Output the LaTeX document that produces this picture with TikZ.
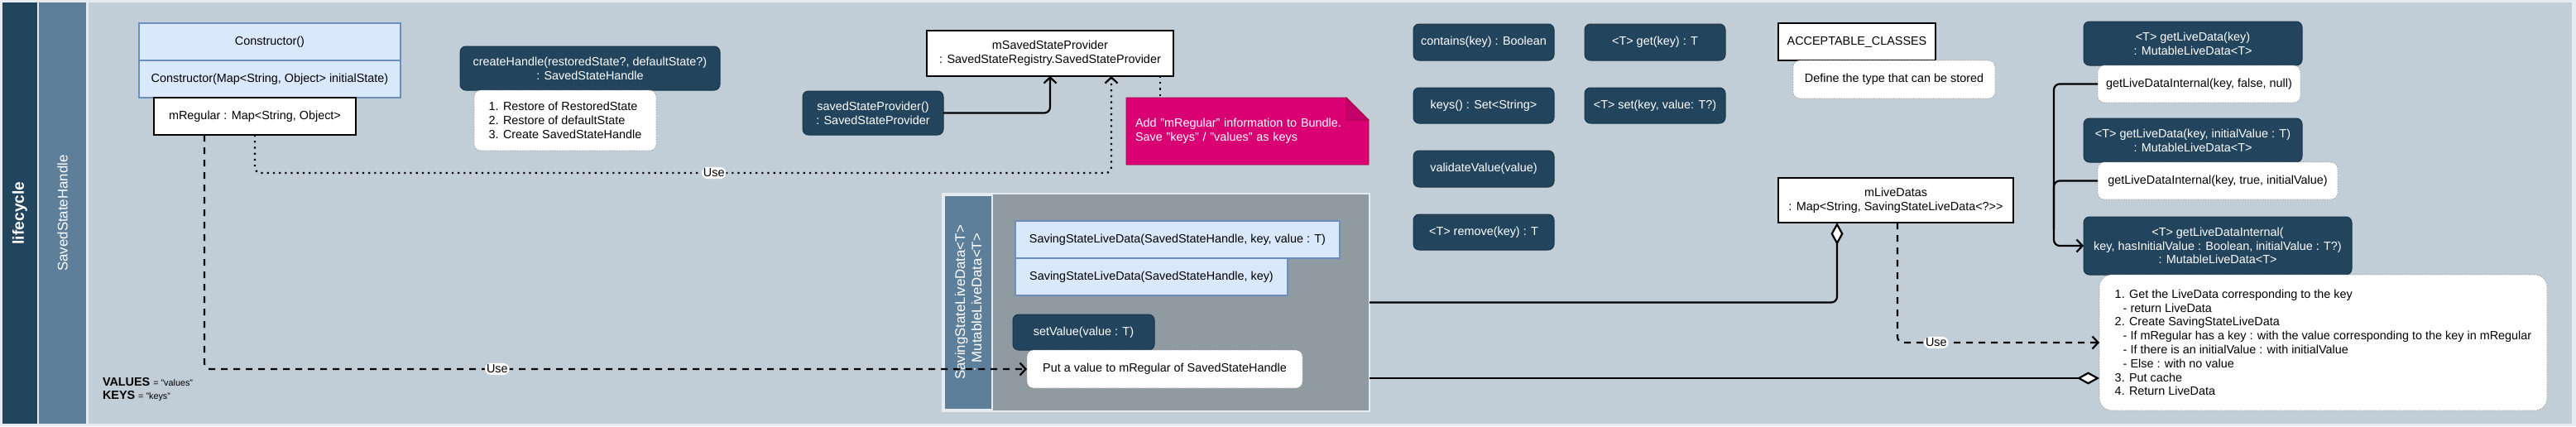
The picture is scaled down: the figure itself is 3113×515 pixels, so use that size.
\documentclass[tikz,border=0pt]{standalone}
\usepackage{fontspec}
\setmainfont{Liberation Sans}
\usetikzlibrary{arrows.meta}
\definecolor{dk}{HTML}{23445D}
\definecolor{dkline}{HTML}{1A3549}
\definecolor{midl}{HTML}{5D7F99}
\definecolor{bgmain}{HTML}{C1CDD7}
\definecolor{edgec}{HTML}{E6EBEF}
\definecolor{lb}{HTML}{DAE8FC}
\definecolor{lbline}{HTML}{6C8EBF}
\definecolor{pinkf}{HTML}{D80073}
\definecolor{pinkd}{HTML}{C4006A}
\definecolor{pinkl}{HTML}{A50040}
\definecolor{grayb}{HTML}{8F9AA1}
\definecolor{noteline}{HTML}{9A9A9A}
\tikzset{
  diamtip/.tip={Diamond[fill=white,length=27pt,width=15pt]},
  barbtip/.tip={Straight Barb[length=7pt,width=15pt]},
  base/.style={inner sep=0pt, outer sep=0pt, font=\fontsize{14.4}{16.8}\selectfont},
  sz/.style 2 args={minimum width=#1pt, minimum height=#2pt},
  darkbox/.style={base, draw=dkline, line width=1pt, fill=dk, text=white, rounded corners=7pt, align=center},
  classbox/.style={base, draw=black, line width=1.4pt, fill=white, align=center},
  bluebox/.style={base, draw=lbline, line width=1.4pt, fill=lb, align=center},
  notebox/.style={base, draw=noteline, line width=0.7pt, dash pattern=on 1.5pt off 1.5pt, fill=white, rounded corners=8pt, align=center},
  lane/.style={inner sep=0pt, outer sep=0pt, rotate=90, text=white},
  uselbl/.style={base, fill=white, inner xsep=2pt, inner ysep=2pt, text=black},
  solidline/.style={line width=2.2pt, rounded corners=7pt},
  conn/.style={solidline, -barbtip},
  dotconn/.style={line width=2.2pt, dash pattern=on 2.2pt off 5pt, rounded corners=7pt},
  dashconn/.style={line width=2.2pt, dash pattern=on 8pt off 7pt, rounded corners=7pt, -barbtip}
}
\begin{document}
\begin{tikzpicture}[x=1pt,y=-1pt]
\useasboundingbox (0,0) rectangle (3113,515);
\fill[edgec] (0,0) rectangle (3113,515);
% lanes
\node[lane, fill=dk, minimum width=509pt, minimum height=42pt, font=\fontsize{19.2}{22}\selectfont\bfseries] (lc) at (24,257.5) {lifecycle};
\node[lane, fill=midl, minimum width=509pt, minimum height=57pt, font=\fontsize{16.8}{20}\selectfont] (ssh) at (75.5,257.5) {SavedStateHandle};
\fill[bgmain] (107,3) rectangle (3108,512);

% constructor and mRegular
\node[bluebox, sz={316}{45}] (cons1) at (326,50.5) {Constructor()};
\node[bluebox, sz={316}{45}] (cons2) at (326,95.5) {Constructor(Map<String, Object> initialState)};
\node[classbox, sz={244}{45}] (mreg) at (308,140.5) {mRegular : Map<String, Object>};

% createHandle
\node[darkbox, sz={314}{53}] (create) at (713,82.5) {createHandle(restoredState?, defaultState?)\\: SavedStateHandle};
\node[notebox, sz={220}{73}, align=left] (createnote) at (683,145.5) {1. Restore of RestoredState\\2. Restore of defaultState\\3. Create SavedStateHandle};

% saved state provider
\node[classbox, sz={298}{55}] (msp) at (1269,64.5) {mSavedStateProvider\\: SavedStateRegistry.SavedStateProvider};
\node[darkbox, sz={170}{53}] (ssp) at (1055,136.5) {savedStateProvider()\\: SavedStateProvider};

% pink note
\filldraw[fill=pinkf, draw=pinkl, line width=0.8pt] (1361,118) -- (1627,118) -- (1654,145) -- (1654,199) -- (1361,199) -- cycle;
\filldraw[fill=pinkd, draw=pinkl, line width=0.8pt] (1627,118) -- (1627,145) -- (1654,145) -- cycle;
\node[base, text=white, align=left, text width=271pt, inner xsep=11pt, minimum height=81pt] (pink) at (1507.5,158.5) {Add "mRegular" information to Bundle.\\Save "keys" / "values" as keys};

% SavingStateLiveData container
\node[base, fill=grayb, draw=edgec, line width=2pt, sz={516}{263}] (cont) at (1397,365.5) {};
\node[lane, fill=midl, draw=edgec, line width=2pt, minimum width=259pt, minimum height=58pt, font=\fontsize{16.8}{20}\selectfont, align=center] (conthead) at (1170,365.5) {SavingStateLiveData<T>\\: MutableLiveData<T>};
\node[bluebox, sz={392}{45}] (ssld1) at (1423,289.5) {SavingStateLiveData(SavedStateHandle, key, value : T)};
\node[bluebox, sz={329}{45}] (ssld2) at (1391.5,334.5) {SavingStateLiveData(SavedStateHandle, key)};
\node[darkbox, sz={171}{43}] (setv) at (1309.5,401.5) {setValue(value : T)};
\node[notebox, sz={333}{46}] (putnote) at (1407.5,446) {Put a value to mRegular of SavedStateHandle};

% methods
\node[darkbox, sz={170}{44}] (contains) at (1793,51) {contains(key) : Boolean};
\node[darkbox, sz={170}{43}] (keys) at (1793,127.5) {keys() : Set<String>};
\node[darkbox, sz={170}{44}] (validate) at (1793,204) {validateValue(value)};
\node[darkbox, sz={170}{43}] (remove) at (1793,280.5) {<T> remove(key) : T};
\node[darkbox, sz={170}{44}] (get) at (2000,51) {<T> get(key) : T};
\node[darkbox, sz={170}{43}] (set) at (2000,127.5) {<T> set(key, value: T?)};

% acceptable classes, mLiveDatas
\node[classbox, sz={190}{45}] (acc) at (2244,50.5) {ACCEPTABLE\_CLASSES};
\node[notebox, sz={244}{46}] (accnote) at (2289,96) {Define the type that can be stored};
\node[classbox, sz={284}{54}] (mld) at (2291,242) {mLiveDatas\\: Map<String, SavingStateLiveData<?>{}>};

% getLiveData
\node[darkbox, sz={264}{53}] (gld1) at (2650,52.5) {<T> getLiveData(key)\\: MutableLiveData<T>};
\node[notebox, sz={245}{45}] (gn1) at (2657.5,101.5) {getLiveDataInternal(key, false, null)};
\node[darkbox, sz={264}{53}] (gld2) at (2650,169.5) {<T> getLiveData(key, initialValue : T)\\: MutableLiveData<T>};
\node[notebox, sz={290}{45}] (gn2) at (2680,218.5) {getLiveDataInternal(key, true, initialValue)};
\node[darkbox, sz={324}{70}] (gldi) at (2680,297) {<T> getLiveDataInternal(\\key, hasInitialValue : Boolean, initialValue : T?)\\: MutableLiveData<T>};
\node[notebox, sz={541}{164}, rounded corners=15pt, align=left] (bignote) at (2807.5,414) {1. Get the LiveData corresponding to the key\\\hspace*{10pt}- return LiveData\\2. Create SavingStateLiveData\\\hspace*{10pt}- If mRegular has a key : with the value corresponding to the key in mRegular\\\hspace*{10pt}- If there is an initialValue : with initialValue\\\hspace*{10pt}- Else : with no value\\3. Put cache\\4. Return LiveData};

% constants
\node[base, anchor=west, align=left] (consts) at (124,470.5) {\textbf{VALUES} {\fontsize{10.8}{12}\selectfont = "values"}\\\textbf{KEYS} {\fontsize{10.8}{12}\selectfont = "keys"}};

% connectors
\draw[conn] (ssp.east) -| (msp.south);
\draw[dotconn, -barbtip] (mreg.south) |- node[uselbl,pos=0.768]{Use} (1343,209) -- ([xshift=74pt]msp.south);
\draw[dashconn] ([xshift=-61pt]mreg.south) |- node[uselbl,pos=0.678]{Use} (putnote.west);
\draw[dotconn] ([xshift=133pt]msp.south) -- ++(0,26);
\draw[solidline, diamtip-] ([xshift=-71pt]mld.south) |- (cont.east);
\coordinate (bnd) at ([yshift=-43pt]bignote.west);
\draw[solidline, -diamtip] (cont.east |- bnd) -- (bnd);
\draw[dashconn] ([xshift=2pt]mld.south) |- node[uselbl,pos=0.596]{Use} (bignote.west);
\draw[conn] (gn1.west) -| ([xshift=-36pt]gldi.west) -- (gldi.west);
\draw[solidline] (gn2.west) -| ([xshift=-36pt,yshift=20pt]gldi.west);
\end{tikzpicture}
\end{document}
